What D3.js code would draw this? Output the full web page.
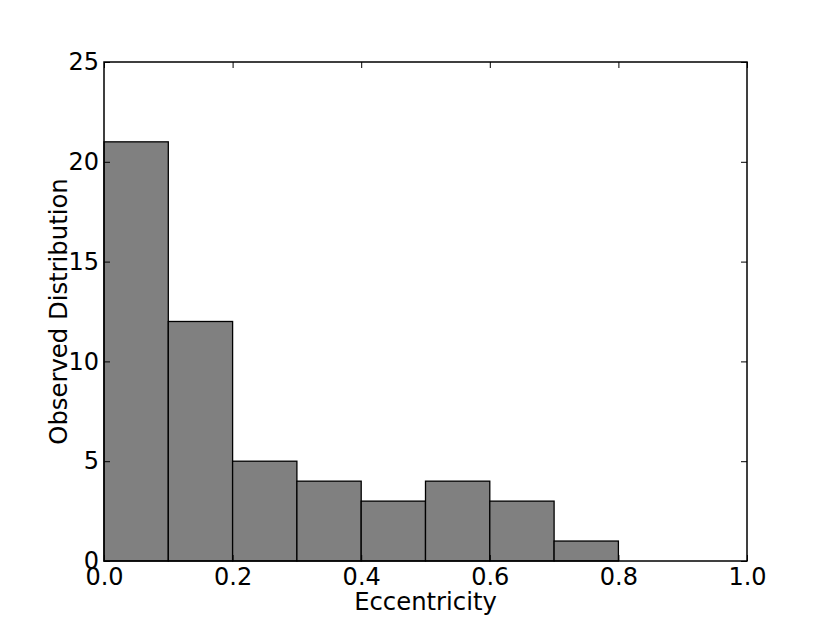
<!DOCTYPE html>
<html><head><meta charset="utf-8">
<script src="https://cdn.jsdelivr.net/npm/d3@7"></script>
<style>body{margin:0;background:#fff}svg{display:block}text{font-family:"DejaVu Sans",sans-serif;fill:#000}</style>
</head><body>
<script>
const binStarts = [0.0,0.1,0.2,0.3,0.4,0.5,0.6,0.7];
const binWidth = 0.1;
const counts = [21,12,5,4,3,4,3,1];
const xTicks = [0.0,0.2,0.4,0.6,0.8,1.0];
const yTicks = [0,5,10,15,20,25];
const xLabel = "Eccentricity";
const yLabel = "Observed Distribution";

const W=830,H=623;
const m={left:104,right:747,top:62,bottom:561};
const svg=d3.select("body").append("svg").attr("width",W).attr("height",H);
const x=d3.scaleLinear().domain([0,1]).range([m.left,m.right]);
const y=d3.scaleLinear().domain([0,25]).range([m.bottom,m.top]);

svg.append("g").selectAll("rect").data(binStarts).join("rect")
  .attr("x",d=>x(d)).attr("width",d=>x(d+binWidth)-x(d))
  .attr("y",(d,i)=>y(counts[i])).attr("height",(d,i)=>y(0)-y(counts[i]))
  .attr("fill","#808080").attr("stroke","#000").attr("stroke-width",1.3);

const tl=6, fs=24;
const axB=d3.axisBottom(x).tickValues(xTicks).tickFormat(d3.format(".1f")).tickSizeInner(-tl).tickSizeOuter(0).tickPadding(7);
const axT=d3.axisTop(x).tickValues(xTicks).tickFormat("").tickSizeInner(-tl).tickSizeOuter(0);
const axL=d3.axisLeft(y).tickValues(yTicks).tickFormat(d3.format("d")).tickSizeInner(-tl).tickSizeOuter(0).tickPadding(5);
const axR=d3.axisRight(y).tickValues(yTicks).tickFormat("").tickSizeInner(-tl).tickSizeOuter(0);
function style(g){g.select(".domain").remove();g.selectAll("line").attr("stroke","#000").attr("stroke-width",1);g.selectAll("text").attr("font-size",fs).attr("font-family","DejaVu Sans");}
svg.append("g").attr("transform",`translate(0,${m.bottom})`).call(axB).call(style);
svg.append("g").attr("transform",`translate(0,${m.top})`).call(axT).call(style);
svg.append("g").attr("transform",`translate(${m.left},0)`).call(axL).call(style);
svg.append("g").attr("transform",`translate(${m.right},0)`).call(axR).call(style);

svg.append("rect").attr("x",m.left).attr("y",m.top).attr("width",m.right-m.left).attr("height",m.bottom-m.top)
  .attr("fill","none").attr("stroke","#000").attr("stroke-width",1.5);

svg.append("text").attr("x",(m.left+m.right)/2).attr("y",610).attr("text-anchor","middle").attr("font-size",24.3).text(xLabel);
svg.append("text").attr("transform",`translate(67,${(m.top+m.bottom)/2}) rotate(-90)`).attr("text-anchor","middle").attr("font-size",24.3).text(yLabel);
</script>
</body></html>
